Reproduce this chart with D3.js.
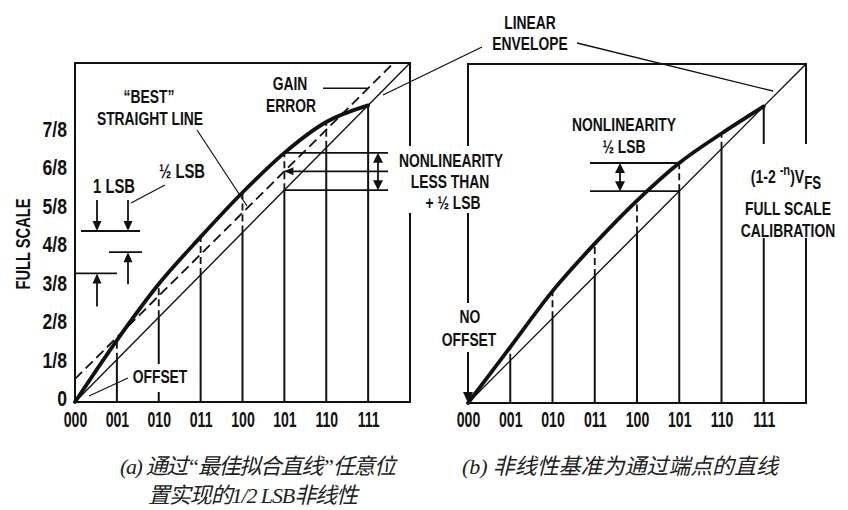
<!DOCTYPE html>
<html>
<head>
<meta charset="utf-8">
<script src="https://cdn.jsdelivr.net/npm/d3@7"></script>
<style>
  html, body { margin: 0; padding: 0; background: #fff; }
  svg { display: block; }
  .lbl { font-family: "Liberation Sans", Arial, sans-serif; font-weight: bold; fill: #111; }
  .cap { fill: #222; }
</style>
</head>
<body>
<svg id="chart" width="848" height="510"></svg>
<script>
// ---- Output codes and full-scale fractions ----
const codes = ["000", "001", "010", "011", "100", "101", "110", "111"];
const codeIndex = [0, 1, 2, 3, 4, 5, 6, 7];
const fractionLabels = ["0", "1/8", "2/8", "3/8", "4/8", "5/8", "6/8", "7/8"];
const fractionTicks = [0, 0.125, 0.25, 0.375, 0.5, 0.625, 0.75, 0.875];

// Ideal transfer: value reached at each code, and the line's end points [code, fraction]
const idealValues = [0, 0.125, 0.25, 0.375, 0.5, 0.625, 0.75, 0.875];
const idealEnds = [[0, 0], [8, 1]];

// (a) actual transfer curve and its "best" straight line [code, fraction]
const curveLeft = [0, 0.182, 0.348, 0.487, 0.618, 0.735, 0.826, 0.875];
const bestLineLeft = [[0, 0.068], [8, 1.048]];

// (b) actual transfer curve, referenced to the end-point line
const curveRight = [0, 0.165, 0.330, 0.470, 0.597, 0.708, 0.795, 0.875];

// Captions
const captionA = ["通过", "“", "最佳拟合直线", "”", "任意位", "置实现的", "1/2 LSB", "非线性"];
const captionB = "非线性基准为通过端点的直线";

const svg = d3.select("#chart");
const ink = "#111";

// ---- scales ----
const xA = d3.scaleLinear().domain([0, 8]).range([75, 410]);
const yA = d3.scaleLinear().domain([0, 1]).range([402, 63]);
const xB = d3.scaleLinear().domain([0, 8]).range([468, 806]);
const yB = d3.scaleLinear().domain([0, 1]).range([403, 64]);
// tick labels of the fraction axis sit on their own spacing
const yTick = d3.scaleLinear().domain([0, 1]).range([398, 90]);
const bestA = d3.scaleLinear().domain(bestLineLeft.map(d => d[0])).range(bestLineLeft.map(d => d[1]));

const layerLines = svg.append("g");
const layerMask = svg.append("g");
const layerText = svg.append("g");

function line(g, x1, y1, x2, y2, w, dash) {
  return g.append("line").attr("x1", x1).attr("y1", y1).attr("x2", x2).attr("y2", y2)
    .attr("stroke", ink).attr("stroke-width", w).attr("stroke-dasharray", dash || null)
    .attr("stroke-linecap", "butt");
}

// filled arrow head with its tip at (x, y)
function head(g, x, y, dir, len = 10, half = 4.5) {
  let p;
  if (dir === "down") p = [[x, y], [x - half, y - len], [x + half, y - len]];
  if (dir === "up") p = [[x, y], [x - half, y + len], [x + half, y + len]];
  if (dir === "left") p = [[x, y], [x + len, y - half], [x + len, y + half]];
  g.append("path").attr("d", "M" + p.join("L") + "Z").attr("fill", ink);
}

function label(g, x, y, str, size = 18, sx = 0.77, anchor = "middle") {
  return g.append("text").attr("class", "lbl")
    .attr("transform", `translate(${x},${y}) scale(${sx},1)`)
    .attr("text-anchor", anchor).style("font-size", size + "px").text(str);
}

function knockout(x, y, w, h) {
  layerMask.append("rect").attr("x", x).attr("y", y).attr("width", w).attr("height", h).attr("fill", "#fff");
}

function drawPanel(x, y, curve) {
  const g = layerLines.append("g");
  // frame
  g.append("rect").attr("x", x(0)).attr("y", y(1))
    .attr("width", x(8) - x(0)).attr("height", y(0) - y(1))
    .attr("fill", "none").attr("stroke", ink).attr("stroke-width", 2);

  // code risers: solid up to the ideal value, dashed on to the actual curve
  codeIndex.slice(1).forEach(k => {
    const top = Math.min(idealValues[k], curve[k]);
    line(g, x(k), y(0), x(k), y(top), 2);
    if (curve[k] > idealValues[k] + 0.005)
      line(g, x(k), y(idealValues[k]), x(k), y(curve[k]), 1.8, "7,4");
  });

  // ideal straight line
  line(g, x(idealEnds[0][0]), y(idealEnds[0][1]), x(idealEnds[1][0]), y(idealEnds[1][1]), 1.4);

  // actual transfer curve
  const path = d3.line().x(d => x(d[0])).y(d => y(d[1])).curve(d3.curveMonotoneX);
  g.append("path").datum(codeIndex.map(k => [k, curve[k]]))
    .attr("d", path).attr("fill", "none").attr("stroke", ink)
    .attr("stroke-width", 3.8).attr("stroke-linejoin", "round").attr("stroke-linecap", "round");

  // code labels
  const ax = layerText.append("g").attr("transform", "translate(0,427)")
    .call(d3.axisBottom(x).tickValues(codeIndex).tickFormat(k => codes[k]).tickSize(0));
  ax.select(".domain").remove();
  ax.attr("font-family", null).attr("font-size", null);
  ax.selectAll("text").attr("class", "lbl").attr("y", 0).attr("dy", 0)
    .attr("transform", "scale(0.64,1)").style("font-size", "22px");
  return g;
}

// ================= (a) =================
const gA = drawPanel(xA, yA, curveLeft);

// "best" straight line, clipped to the frame
svg.append("defs").append("clipPath").attr("id", "clipA").append("rect")
  .attr("x", xA(0)).attr("y", yA(1)).attr("width", xA(8) - xA(0)).attr("height", yA(0) - yA(1));
line(gA, xA(bestLineLeft[0][0]), yA(bestLineLeft[0][1]), xA(bestLineLeft[1][0]), yA(bestLineLeft[1][1]), 1.8, "10,5")
  .attr("clip-path", "url(#clipA)");

// fraction-of-full-scale labels
const axY = layerText.append("g").attr("transform", "translate(67,0)")
  .call(d3.axisLeft(yTick).tickValues(fractionTicks).tickFormat((d, i) => fractionLabels[i]).tickSize(0));
axY.select(".domain").remove();
axY.attr("font-family", null).attr("font-size", null);
axY.selectAll("text").attr("class", "lbl").attr("x", 0).attr("dy", "0.36em")
  .attr("transform", "scale(0.8,1)").style("font-size", "22px");
layerText.append("text").attr("class", "lbl")
  .attr("transform", "translate(30,244) rotate(-90) scale(0.7,1)")
  .attr("text-anchor", "middle").style("font-size", "21px").text("FULL SCALE");

// nonlinearity bracket at code 101
{
  const k = 5, xr = 388, xa = 378;
  const yTop = yA(curveLeft[k]), yMid = yA(bestA(k)), yBot = yA(idealValues[k]);
  [yTop, yMid, yBot].forEach(v => line(gA, xA(k), v, xr, v, 1.8));
  head(gA, xA(k), yMid, "left", 9, 4);
  line(gA, xa, yTop + 8, xa, yBot - 8, 1.8);
  head(gA, xa, yTop, "up", 10, 5);
  head(gA, xa, yBot, "down", 10, 5);
}

// 1 LSB and 1/2 LSB gauges
{
  const lsb = yA(0) - yA(0.125);
  const top = 231;
  line(gA, 81, top, 140, top, 1.8);
  line(gA, 97, 200, 97, top - 9, 1.8); head(gA, 97, top, "down", 10, 4.5);
  line(gA, 128, 200, 128, top - 9, 1.8); head(gA, 128, top, "down", 10, 4.5);
  const half = top + lsb / 2, full = top + lsb;
  line(gA, 109, half, 142, half, 1.8);
  line(gA, 128, half + 9, 128, half + 32, 1.8); head(gA, 128, half, "up", 10, 4.5);
  line(gA, xA(0), full, 117, full, 1.8);
  line(gA, 97, full + 9, 97, full + 33, 1.8); head(gA, 97, full, "up", 10, 4.5);
  line(gA, 165, 185, 131, 203, 1.2);
}

// leaders
line(gA, 197, 130, 247, 206, 1.2);                         // best straight line
line(gA, 323, yA(bestA(7)), xA(7) - 1, yA(bestA(7)), 1.3);   // gain error
line(gA, 128, 378, 89, 396, 1.2);                          // offset
line(gA, 383, 95, 482, 47, 1.3);                           // linear envelope (a)
line(gA, 577, 43, 773, 91, 1.3);                           // linear envelope (b)

// ================= (b) =================
const gB = drawPanel(xB, yB, curveRight);
{
  const k = 5, xl = 590, xa = 620;
  const yTop = yB(curveRight[k]), yBot = yB(idealValues[k]);
  [yTop, yBot].forEach(v => line(gB, xl, v, xB(k), v, 1.8));
  line(gB, xa, yTop + 8, xa, yBot - 8, 1.8);
  head(gB, xa, yTop, "up", 10, 5);
  head(gB, xa, yBot, "down", 10, 5);
}
// no offset arrow at the origin
head(gB, xB(0), yB(0), "down", 11, 5);

// ---- clear space under text blocks ----
knockout(130, 364, 62, 28);     // OFFSET
knockout(395, 146, 114, 67);    // NONLINEARITY LESS THAN
knockout(440, 303, 60, 49);     // NO OFFSET
knockout(737, 144, 104, 94);    // full scale calibration

// ---- text ----
const T = layerText;
label(T, 149, 103, "“BEST”");
label(T, 150, 125, "STRAIGHT LINE");
label(T, 290, 90, "GAIN");
label(T, 291, 112, "ERROR");
label(T, 114, 193, "1 LSB", 20, 0.74);
label(T, 182, 178, "½ LSB", 20, 0.74);
label(T, 160, 383, "OFFSET");
label(T, 530, 29, "LINEAR");
label(T, 530, 50, "ENVELOPE");
label(T, 451, 167, "NONLINEARITY");
label(T, 450, 188, "LESS THAN");
label(T, 453, 209, "+ ½ LSB");
label(T, 624, 131, "NONLINEARITY");
label(T, 624, 153, "½ LSB");
label(T, 470, 323, "NO");
label(T, 469, 346, "OFFSET");
{
  const t = T.append("text").attr("class", "lbl")
    .attr("transform", "translate(786,183) scale(0.74,1)")
    .attr("text-anchor", "middle").style("font-size", "19px");
  t.append("tspan").text("(1-2 ");
  t.append("tspan").attr("dy", -8).style("font-size", "15px").text("-n");
  t.append("tspan").attr("dy", 8).text(")V");
  t.append("tspan").attr("dy", 6).style("font-size", "18px").text("FS");
}
label(T, 788, 215, "FULL SCALE");
label(T, 788, 237, "CALIBRATION");

// ---- captions ----
function caption(x, y, parts, len) {
  const t = T.append("text").attr("class", "cap").attr("x", x).attr("y", y)
    .attr("textLength", len).attr("lengthAdjust", "spacing")
    .style("font-size", "22px").style("font-style", "italic");
  parts.forEach(([s, fam]) => t.append("tspan").style("font-family", fam).text(s));
  return t;
}
const serif = '"Liberation Serif", serif';
const cjk = '"Noto Sans CJK SC", sans-serif';
caption(120, 474, [["(a) ", serif], [captionA[0], cjk], [captionA[1], serif],
  [captionA[2], cjk], [captionA[3], serif], [captionA[4], cjk]], 276);
caption(148, 503, [[captionA[5], cjk], [captionA[6], serif], [captionA[7], cjk]], 210);
caption(462, 474, [["(b) ", serif], [captionB, cjk]], 316);
</script>
</body>
</html>
